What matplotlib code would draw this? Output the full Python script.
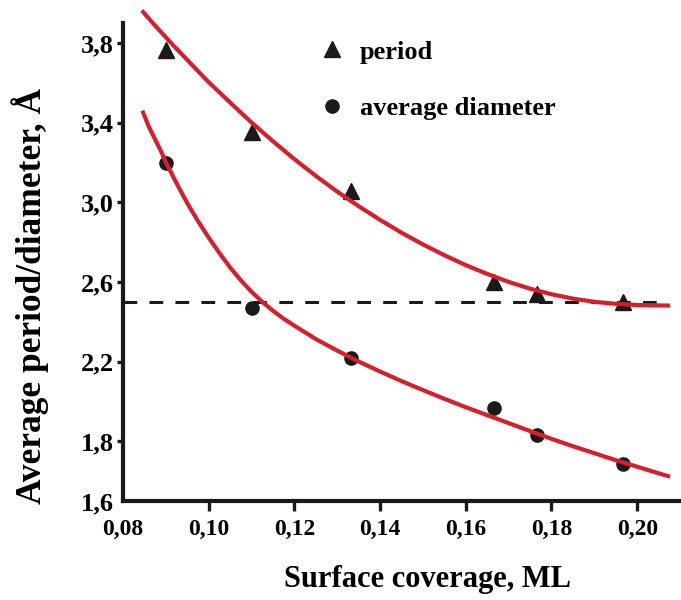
import numpy as np
import matplotlib.pyplot as plt

plt.rcParams['font.family'] = 'Liberation Serif'
plt.rcParams['font.weight'] = 'bold'

# measured points
coverage = [0.0900, 0.1101, 0.1333, 0.1666, 0.1766, 0.1967]
period = [3.765, 3.354, 3.058, 2.597, 2.537, 2.497]
diameter = [3.198, 2.467, 2.216, 1.965, 1.830, 1.685]

# fitted curves
period_fit_x = [0.0847, 0.0875, 0.090, 0.0925, 0.095, 0.0975, 0.100, 0.105, 0.110, 0.115,
                0.120, 0.125, 0.130, 0.135, 0.140, 0.145, 0.150, 0.155, 0.160, 0.165,
                0.170, 0.175, 0.180, 0.185, 0.190, 0.195, 0.200, 0.2072]
period_fit = [3.955, 3.886, 3.828, 3.770, 3.714, 3.658, 3.603, 3.500, 3.400, 3.306,
              3.216, 3.132, 3.053, 2.980, 2.911, 2.847, 2.788, 2.734, 2.684, 2.640,
              2.600, 2.566, 2.538, 2.516, 2.500, 2.490, 2.484, 2.481]
diam_fit_x = [0.0847, 0.086, 0.0875, 0.089, 0.090, 0.0925, 0.095, 0.0975, 0.100, 0.1025,
              0.105, 0.1075, 0.110, 0.1125, 0.115, 0.1175, 0.120, 0.125, 0.130, 0.135,
              0.140, 0.145, 0.150, 0.155, 0.160, 0.165, 0.170, 0.175, 0.180, 0.185,
              0.190, 0.195, 0.200, 0.2072]
diameter_fit = [3.450, 3.380, 3.315, 3.250, 3.200, 3.095, 2.995, 2.905, 2.822, 2.745,
                2.672, 2.608, 2.550, 2.500, 2.455, 2.415, 2.380, 2.313, 2.255, 2.200,
                2.150, 2.102, 2.057, 2.013, 1.971, 1.931, 1.891, 1.851, 1.812, 1.775,
                1.740, 1.705, 1.672, 1.625]

ref_level = 2.5
ref_span = [0.080, 0.207]

xticks = [0.08, 0.10, 0.12, 0.14, 0.16, 0.18, 0.20]
xtick_labels = ['0,08', '0,10', '0,12', '0,14', '0,16', '0,18', '0,20']
yticks = [1.5, 1.8, 2.2, 2.6, 3.0, 3.4, 3.8]
ytick_labels = ['1,6', '1,8', '2,2', '2,6', '3,0', '3,4', '3,8']

red = '#d61f2c'

fig = plt.figure(figsize=(6.81, 6.0), dpi=100)
ax = fig.add_axes([0.1806, 0.165, 0.818, 0.83])

ax.plot(coverage, period, '^', color='#1a1a1a', ms=12, zorder=2, label='period')
ax.plot(coverage, diameter, 'o', color='#1a1a1a', ms=9.5, zorder=2, label='average diameter')
ax.plot(ref_span, [ref_level, ref_level], color='#1a1a1a', lw=2.2,
        linestyle=(0, (4.5, 4)), zorder=3)
ax.plot(period_fit_x, period_fit, color=red, lw=3, zorder=4, clip_on=False)
ax.plot(diam_fit_x, diameter_fit, color=red, lw=3, zorder=4, clip_on=False)

ax.set_xlim(0.08, 0.21)
ax.set_ylim(1.5, 4.0)
ax.set_xticks(xticks)
ax.set_xticklabels(xtick_labels)
ax.set_yticks(yticks)
ax.set_yticklabels(ytick_labels)

for s in ['top', 'right']:
    ax.spines[s].set_visible(False)
for s in ['left', 'bottom']:
    ax.spines[s].set_linewidth(3)
    ax.spines[s].set_color('#1a1a1a')
ax.spines['left'].set_bounds(1.5, 3.9)

ax.tick_params(axis='x', direction='out', length=7, width=2.4, pad=6,
               labelsize=17, color='#1a1a1a')
ax.tick_params(axis='y', direction='out', length=4.5, width=2.4, pad=2,
               labelsize=19, color='#1a1a1a')
ax.xaxis.get_major_ticks()[0].tick1line.set_visible(False)
ax.yaxis.get_major_ticks()[0].tick1line.set_visible(False)

fig.text(427 / 681, 1 - 580 / 600, 'Surface coverage, ML', ha='center', va='center',
         fontsize=22, fontweight='bold')
fig.text(30 / 681, 1 - 296 / 600, 'Average period/diameter, Å', ha='center', va='center',
         rotation=90, fontsize=25.5, fontweight='bold')

ax.legend(loc='upper left', bbox_to_anchor=(303 / 681, 1 - 27 / 600),
          bbox_transform=fig.transFigure, frameon=False, fontsize=19,
          handletextpad=0.45, labelspacing=1.25, handlelength=1.2, borderpad=0)

fig.savefig('out.png', dpi=100)
